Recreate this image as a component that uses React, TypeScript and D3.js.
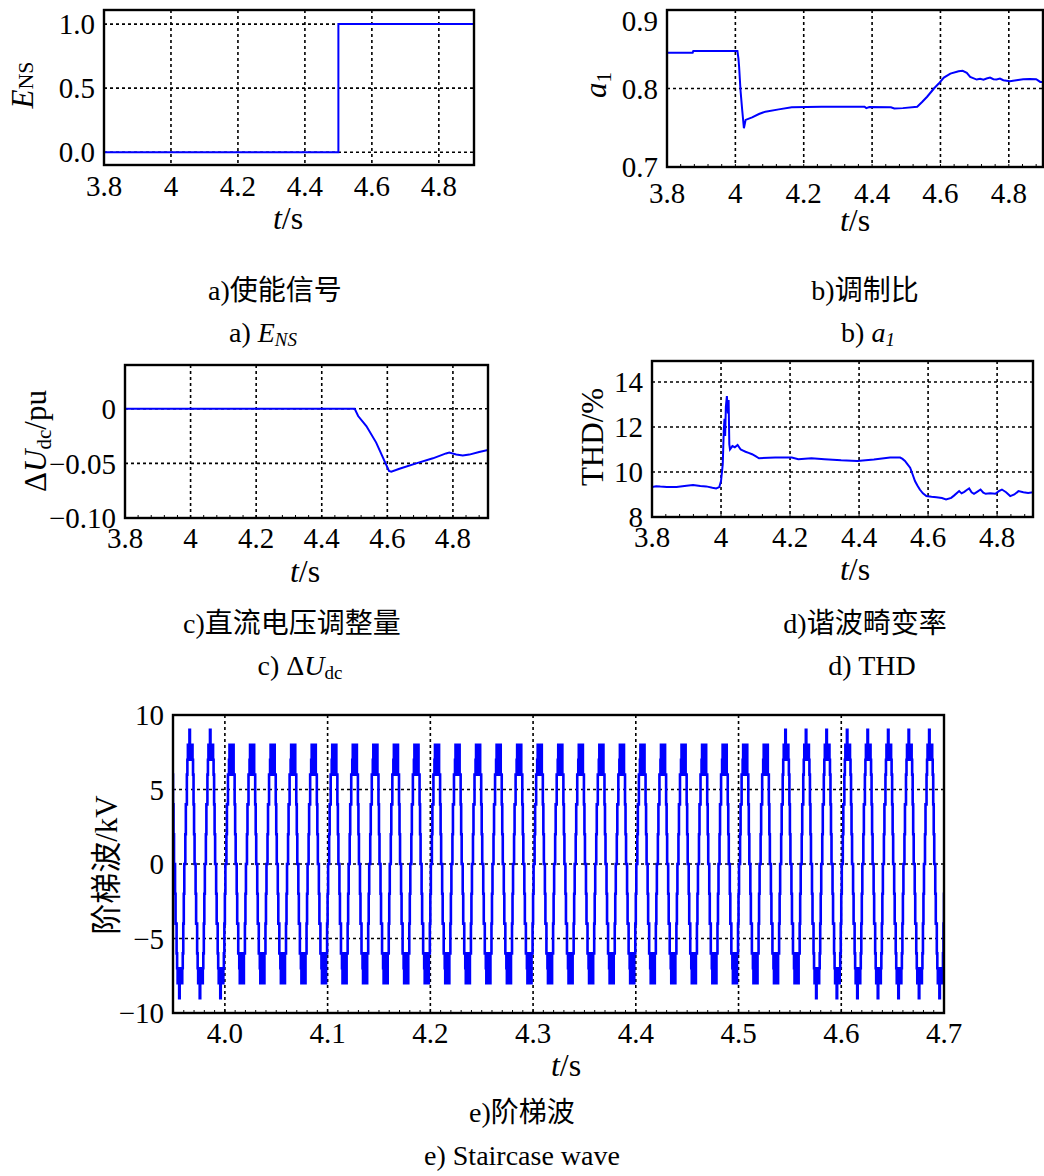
import React from "react";
import * as d3 from "d3";

// ---------- data ----------
const tickTimes = [3.8, 4, 4.2, 4.4, 4.6, 4.8];
const tickTimeLabels = ["3.8", "4", "4.2", "4.4", "4.6", "4.8"];

// a) enable signal E_NS
const ensTime = [3.8, 4.5, 4.905];
const ensValue = [0, 1, 1];
const ensTicks = [0, 0.5, 1];
const ensTickLabels = ["0.0", "0.5", "1.0"];

// b) modulation ratio a1
const a1Time = [3.8, 3.875, 3.877, 4.006, 4.009, 4.011, 4.015, 4.02, 4.025, 4.03, 4.049, 4.069, 4.088, 4.127, 4.165, 4.252, 4.378, 4.383, 4.392, 4.455, 4.465, 4.49, 4.532, 4.547, 4.561, 4.581, 4.595, 4.61, 4.629, 4.653, 4.665, 4.677, 4.687, 4.706, 4.716, 4.726, 4.735, 4.745, 4.755, 4.764, 4.774, 4.784, 4.803, 4.822, 4.842, 4.861, 4.88, 4.892, 4.905];
const a1Value = [0.8456, 0.8456, 0.8477, 0.8477, 0.838, 0.8274, 0.798, 0.7726, 0.7494, 0.76, 0.7633, 0.7675, 0.7705, 0.7734, 0.776, 0.7768, 0.7768, 0.775, 0.7765, 0.776, 0.7745, 0.775, 0.7768, 0.7831, 0.7895, 0.80, 0.8063, 0.8139, 0.819, 0.822, 0.8225, 0.82, 0.8148, 0.8114, 0.8125, 0.8112, 0.8128, 0.8139, 0.8118, 0.8114, 0.8126, 0.8105, 0.8093, 0.8105, 0.8118, 0.8122, 0.8118, 0.8084, 0.808];
const a1Ticks = [0.7, 0.8, 0.9];
const a1TickLabels = ["0.7", "0.8", "0.9"];

// c) dc voltage adjustment
const dUTime = [3.8, 4.5005, 4.511, 4.536, 4.566, 4.605, 4.612, 4.637, 4.688, 4.739, 4.779, 4.789, 4.81, 4.83, 4.85, 4.88, 4.907];
const dUValue = [0, 0, -0.0067, -0.0159, -0.031, -0.057, -0.0576, -0.0549, -0.05, -0.0454, -0.0409, -0.0402, -0.0418, -0.0427, -0.042, -0.0396, -0.0378];
const dUTicks = [-0.1, -0.05, 0];
const dUTickLabels = ["\u22120.10", "\u22120.05", "0"];

// d) THD
const thdTime = [3.8, 3.812, 3.824, 3.843, 3.871, 3.9, 3.919, 3.94, 3.957, 3.975, 3.986, 3.995, 4.0, 4.005, 4.008, 4.01, 4.012, 4.014, 4.017, 4.02, 4.022, 4.024, 4.026, 4.033, 4.04, 4.048, 4.057, 4.064, 4.071, 4.08, 4.09, 4.1, 4.11, 4.157, 4.205, 4.224, 4.262, 4.3, 4.348, 4.395, 4.443, 4.49, 4.519, 4.526, 4.533, 4.54, 4.548, 4.555, 4.562, 4.569, 4.576, 4.585, 4.595, 4.61, 4.624, 4.64, 4.652, 4.667, 4.675, 4.69, 4.697, 4.705, 4.712, 4.719, 4.726, 4.733, 4.742, 4.752, 4.76, 4.767, 4.78, 4.795, 4.805, 4.814, 4.826, 4.838, 4.85, 4.862, 4.876, 4.89, 4.905];
const thdValue = [9.33, 9.37, 9.35, 9.33, 9.33, 9.39, 9.42, 9.38, 9.36, 9.3, 9.27, 9.33, 9.6, 10.34, 11.84, 12.36, 11.6, 12.9, 13.37, 12.6, 13.2, 11.24, 11.0, 11.15, 11.1, 11.2, 11.0, 10.95, 10.9, 10.85, 10.79, 10.7, 10.61, 10.64, 10.64, 10.57, 10.61, 10.57, 10.52, 10.49, 10.55, 10.64, 10.64, 10.58, 10.49, 10.35, 10.19, 9.9, 9.6, 9.4, 9.22, 9.05, 8.93, 8.9, 8.88, 8.84, 8.78, 8.85, 8.95, 9.15, 9.05, 9.12, 9.2, 9.27, 9.1, 9.03, 9.12, 9.22, 9.08, 9.03, 9.05, 9.03, 9.15, 9.22, 9.1, 8.93, 9.0, 9.15, 9.1, 9.07, 9.1];
const thdTicks = [8, 10, 12, 14];
const thdTickLabels = ["8", "10", "12", "14"];

// e) staircase wave: rising zero crossings, peak levels per half cycle, step patterns
const waveZeroCross = [3.941, 3.961, 3.981, 4.001, 4.021, 4.041, 4.061, 4.081, 4.101, 4.121, 4.141, 4.161, 4.181, 4.201, 4.221, 4.241, 4.261, 4.281, 4.301, 4.321, 4.341, 4.361, 4.381, 4.401, 4.421, 4.441, 4.461, 4.481, 4.501, 4.521, 4.541, 4.561, 4.581, 4.601, 4.621, 4.641, 4.661, 4.681, 4.701];
const wavePosPeak = [9, 9, 9, 8, 8, 8, 8, 8, 8, 8, 8, 8, 8, 8, 8, 8, 8, 8, 8, 8, 8, 8, 8, 8, 8, 8, 8, 8, 8, 8, 9, 9, 9, 9, 9, 9, 9, 9, 9];
const waveNegPeak = [9, 9, 9, 8, 8, 8, 8, 8, 8, 8, 8, 8, 8, 8, 8, 8, 8, 8, 8, 8, 8, 8, 8, 8, 8, 8, 8, 8, 8, 8, 8, 9, 9, 9, 9, 9, 9, 9, 9];
const stairHalf8 = [0, 2, 4, 4, 6, 6, 7, 8, 6, 8, 8, 6, 8, 7, 8, 6, 6, 4, 2, 0];
const stairHalf9 = [0, 2, 4, 4, 6, 7, 8, 7, 8, 9, 8, 7, 8, 7, 8, 7, 6, 4, 2, 0];
const waveHalfPeriod = 0.01;
const waveXTicks = [4.0, 4.1, 4.2, 4.3, 4.4, 4.5, 4.6, 4.7];
const waveXTickLabels = ["4.0", "4.1", "4.2", "4.3", "4.4", "4.5", "4.6", "4.7"];
const waveYTicks = [-10, -5, 0, 5, 10];
const waveYTickLabels = ["\u221210", "\u22125", "0", "5", "10"];

// ---------- helpers ----------
const SERIF = "'Liberation Serif', 'Times New Roman', serif";
const MIXED = "'Liberation Serif', 'Noto Sans CJK SC', serif";
const BLUE = "#0000ff";
const TICK_FS = 29;
const TITLE_FS = 32;

type Pt = [number, number];

const zipPts = (xs: number[], ys: number[]): Pt[] => xs.map((x, i) => [x, ys[i]]);

const wavePts: Pt[] = [];
waveZeroCross.forEach((z, i) => {
  const pos = wavePosPeak[i] === 9 ? stairHalf9 : stairHalf8;
  const neg = waveNegPeak[i] === 9 ? stairHalf9 : stairHalf8;
  pos.forEach((v, j) => wavePts.push([z + (j / pos.length) * waveHalfPeriod, v]));
  neg.forEach((v, j) => wavePts.push([z + waveHalfPeriod + (j / neg.length) * waveHalfPeriod, -v]));
});

interface PanelProps {
  id: string;
  x0: number; x1: number; y0: number; y1: number;
  xDomain: [number, number];
  yDomain: [number, number];
  xTicks: number[]; xTickLabels: string[];
  yTicks: number[]; yTickLabels: string[];
  yTickDy?: number[];
  xLabelBase: number;
  minorStep?: number;
  data: Pt[];
  step?: boolean;
  lineWidth?: number;
  titleX: number; titleY: number;
  ylabel: React.ReactNode;
  ylabelX: number; ylabelY: number;
}

function Panel(p: PanelProps) {
  const xs = d3.scaleLinear().domain(p.xDomain).range([p.x0, p.x1]);
  const ys = d3.scaleLinear().domain(p.yDomain).range([p.y1, p.y0]);
  const line = d3.line<Pt>()
    .x(d => xs(d[0]))
    .y(d => ys(d[1]))
    .curve(p.step ? d3.curveStepAfter : d3.curveLinear);
  const minors = p.minorStep
    ? d3.range(Math.ceil(p.xDomain[0] / p.minorStep) * p.minorStep, p.xDomain[1], p.minorStep)
    : [];
  return (
    <g>
      <defs>
        <clipPath id={"clip-" + p.id}>
          <rect x={p.x0} y={p.y0} width={p.x1 - p.x0} height={p.y1 - p.y0} />
        </clipPath>
      </defs>
      {/* grid */}
      {p.xTicks.map(t => {
        const x = xs(t);
        if (Math.abs(x - p.x0) < 2 || Math.abs(x - p.x1) < 2) return null;
        return <line key={"gx" + t} x1={x} x2={x} y1={p.y0} y2={p.y1} stroke="#000" strokeWidth={1.6} strokeDasharray="3,3" />;
      })}
      {p.yTicks.map(t => {
        const y = ys(t);
        if (Math.abs(y - p.y0) < 2 || Math.abs(y - p.y1) < 2) return null;
        return <line key={"gy" + t} x1={p.x0} x2={p.x1} y1={y} y2={y} stroke="#000" strokeWidth={1.6} strokeDasharray="3,3" />;
      })}
      {minors.map((t, i) => (
        <line key={"mn" + i} x1={xs(t)} x2={xs(t)} y1={p.y1} y2={p.y1 - 3} stroke="#000" strokeWidth={1} />
      ))}
      {/* data */}
      <path d={line(p.data) || ""} fill="none" stroke={BLUE} strokeWidth={p.lineWidth || 2} strokeLinejoin="miter" clipPath={`url(#clip-${p.id})`} />
      {/* frame */}
      <rect x={p.x0} y={p.y0} width={p.x1 - p.x0} height={p.y1 - p.y0} fill="none" stroke="#000" strokeWidth={2.4} />
      {/* tick labels */}
      {p.xTicks.map((t, i) => (
        <text key={"tx" + t} x={xs(t)} y={p.xLabelBase} textAnchor="middle" fontFamily={SERIF} fontSize={TICK_FS}>{p.xTickLabels[i]}</text>
      ))}
      {p.yTicks.map((t, i) => (
        <text key={"ty" + t} x={p.x0 - 9} y={ys(t) + (p.yTickDy ? p.yTickDy[i] : 0)} dy="0.35em" textAnchor="end" fontFamily={SERIF} fontSize={TICK_FS}>{p.yTickLabels[i]}</text>
      ))}
      <text x={p.titleX} y={p.titleY} textAnchor="middle" fontFamily={SERIF} fontSize={TITLE_FS}>
        <tspan fontStyle="italic">t</tspan>/s
      </text>
      <text transform={`translate(${p.ylabelX},${p.ylabelY}) rotate(-90)`} textAnchor="middle" fontFamily={MIXED} fontSize={31}>
        {p.ylabel}
      </text>
    </g>
  );
}

function Caption({ x, y, children }: { x: number; y: number; children: React.ReactNode }) {
  return <text x={x} y={y} textAnchor="middle" fontFamily={MIXED} fontSize={28}>{children}</text>;
}

export default function App() {
  return (
    <div style={{ position: "absolute", left: 0, top: 0 }}>
      <svg width={1044} height={1176} style={{ display: "block", background: "#fff" }}>
        <Panel id="a" x0={104} x1={474} y0={10} y1={165}
          xDomain={[3.8, 4.905]} yDomain={[-0.1, 1.11]}
          xTicks={tickTimes} xTickLabels={tickTimeLabels}
          yTicks={ensTicks} yTickLabels={ensTickLabels}
          xLabelBase={196} data={zipPts(ensTime, ensValue)} step
          titleX={288} titleY={229}
          ylabelX={33} ylabelY={85}
          ylabel={<><tspan fontStyle="italic">E</tspan><tspan fontSize={22}>NS</tspan></>} />
        <Panel id="b" x0={667} x1={1043} y0={10} y1={167}
          xDomain={[3.8, 4.9]} yDomain={[0.7, 0.9]}
          xTicks={tickTimes} xTickLabels={tickTimeLabels}
          yTicks={a1Ticks} yTickLabels={a1TickLabels} yTickDy={[0, 0, 11]}
          xLabelBase={203} minorStep={0.04} data={zipPts(a1Time, a1Value)}
          titleX={855} titleY={231}
          ylabelX={606} ylabelY={85}
          ylabel={<><tspan fontStyle="italic">a</tspan><tspan fontSize={21} dy={5}>1</tspan></>} />
        <Panel id="c" x0={125} x1={488} y0={365} y1={518}
          xDomain={[3.8, 4.907]} yDomain={[-0.1, 0.04]}
          xTicks={tickTimes} xTickLabels={tickTimeLabels}
          yTicks={dUTicks} yTickLabels={dUTickLabels}
          xLabelBase={548} minorStep={0.04} data={zipPts(dUTime, dUValue)}
          titleX={305} titleY={582}
          ylabelX={46} ylabelY={441}
          ylabel={<>Δ<tspan fontStyle="italic">U</tspan><tspan fontSize={21} dy={5}>dc</tspan><tspan dy={-5}>/pu</tspan></>} />
        <Panel id="d" x0={652} x1={1033} y0={361} y1={517}
          xDomain={[3.8, 4.904]} yDomain={[8, 14.93]}
          xTicks={tickTimes} xTickLabels={tickTimeLabels}
          yTicks={thdTicks} yTickLabels={thdTickLabels}
          xLabelBase={547} minorStep={0.04} data={zipPts(thdTime, thdValue)}
          titleX={855} titleY={580}
          ylabelX={603} ylabelY={437}
          ylabel={<>THD/%</>} />
        <Panel id="e" x0={173} x1={944} y0={715} y1={1013}
          xDomain={[3.9495, 4.7]} yDomain={[-10, 10]}
          xTicks={waveXTicks} xTickLabels={waveXTickLabels}
          yTicks={waveYTicks} yTickLabels={waveYTickLabels}
          xLabelBase={1043} minorStep={0.01} data={wavePts} step lineWidth={2.6}
          titleX={566} titleY={1076}
          ylabelX={117} ylabelY={865}
          ylabel={<>阶梯波/kV</>} />

        <Caption x={275} y={300}>a)使能信号</Caption>
        <Caption x={263} y={342}>a) <tspan fontStyle="italic">E</tspan><tspan fontStyle="italic" fontSize={19} dy={4}>NS</tspan></Caption>
        <Caption x={865} y={300}>b)调制比</Caption>
        <Caption x={868} y={342}>b) <tspan fontStyle="italic">a</tspan><tspan fontStyle="italic" fontSize={19} dy={4}>1</tspan></Caption>
        <Caption x={292} y={633}>c)直流电压调整量</Caption>
        <Caption x={300} y={675}>c) Δ<tspan fontStyle="italic">U</tspan><tspan fontSize={19} dy={4}>dc</tspan></Caption>
        <Caption x={865} y={633}>d)谐波畸变率</Caption>
        <Caption x={872} y={675}>d) THD</Caption>
        <Caption x={522} y={1122}>e)阶梯波</Caption>
        <Caption x={522} y={1165}>e) Staircase wave</Caption>
      </svg>
    </div>
  );
}
